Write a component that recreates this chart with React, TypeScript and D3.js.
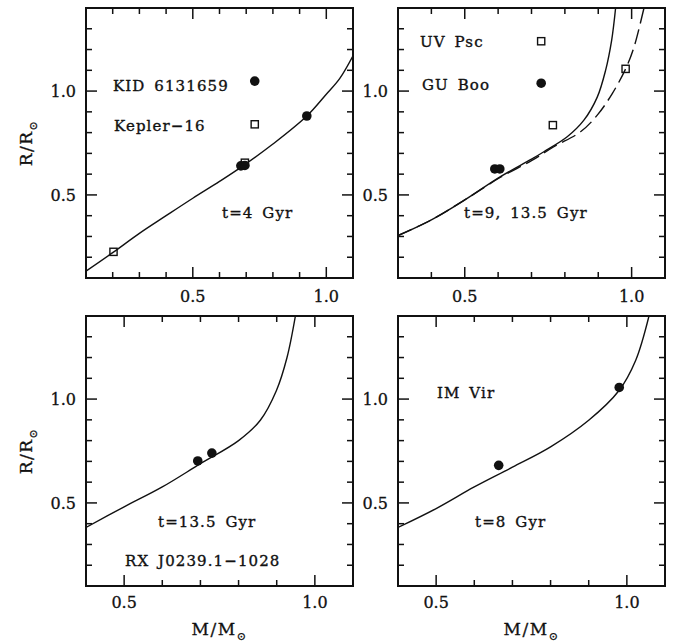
import React, { useRef, useEffect } from 'react';
import * as d3 from 'd3';

// isochrone curves, [mass, radius]
const curve4Gyr: [number, number][] = [
  [0.1, 0.133], [0.2, 0.222], [0.3, 0.315], [0.4, 0.4], [0.5, 0.484], [0.6, 0.565],
  [0.688, 0.64], [0.8, 0.745], [0.927, 0.88], [1.0, 0.985], [1.05, 1.06], [1.1, 1.17],
];
const curve13Gyr: [number, number][] = [
  [0.3, 0.304], [0.4, 0.38], [0.5, 0.476], [0.607, 0.588], [0.7, 0.672], [0.737, 0.708],
  [0.807, 0.78], [0.857, 0.86], [0.897, 0.971], [0.922, 1.1], [0.94, 1.243], [0.952, 1.4],
];
const curve9Gyr: [number, number][] = [
  [0.3, 0.304], [0.4, 0.38], [0.5, 0.476], [0.607, 0.585], [0.7, 0.665], [0.767, 0.732],
  [0.847, 0.804], [0.897, 0.884], [0.942, 0.988], [0.982, 1.107], [1.007, 1.211], [1.037, 1.4],
];
const curveRx: [number, number][] = [
  [0.4, 0.382], [0.5, 0.481], [0.6, 0.577], [0.7, 0.689], [0.8, 0.8], [0.857, 0.898],
  [0.899, 1.04], [0.927, 1.2], [0.949, 1.4],
];
const curve8Gyr: [number, number][] = [
  [0.4, 0.382], [0.5, 0.473], [0.6, 0.577], [0.7, 0.672], [0.8, 0.77], [0.9, 0.898],
  [0.979, 1.04], [1.023, 1.186], [1.058, 1.4],
];

// observed binaries
const kidPoints: [number, number][] = [[0.68, 0.64], [0.695, 0.642], [0.927, 0.88]];
const kepler16Points: [number, number][] = [[0.203, 0.226], [0.695, 0.655]];
const guBooPoints: [number, number][] = [[0.59, 0.625], [0.605, 0.625]];
const uvPscPoints: [number, number][] = [[0.764, 0.836], [0.982, 1.107]];
const rxPoints: [number, number][] = [[0.693, 0.702], [0.73, 0.74]];
const imVirPoints: [number, number][] = [[0.664, 0.681], [0.98, 1.056]];

// legend markers
const legendCircles = [[[0.732, 1.048]], [[0.729, 1.038]], [], []];
const legendSquares = [[[0.732, 0.84]], [[0.729, 1.24]], [], []];

const xTickLabels = [0.5, 1.0];
const yTickLabels = [0.5, 1.0];
const yDomain: [number, number] = [0.1, 1.4];

const W = 675;
const H = 643;
const PW = 267;
const PH = 270;
const FONT = 'DejaVu Serif';
const INK = '#111';

type Panel = {
  x0: number; y0: number; xDomain: [number, number];
  solid: [number, number][]; dashed?: [number, number][];
  circles: [number, number][]; squares: [number, number][];
  notes: { text: string; dx: number; dy: number }[];
  xTitle: boolean; yTitle: boolean;
};

const panels: Panel[] = [
  {
    x0: 86, y0: 8, xDomain: [0.1, 1.1], solid: curve4Gyr,
    circles: kidPoints, squares: kepler16Points,
    notes: [
      { text: 'KID 6131659', dx: 27, dy: 83 },
      { text: 'Kepler\u221216', dx: 28, dy: 123 },
      { text: 't=4 Gyr', dx: 136, dy: 210 },
    ],
    xTitle: false, yTitle: true,
  },
  {
    x0: 398, y0: 8, xDomain: [0.3, 1.1], solid: curve13Gyr, dashed: curve9Gyr,
    circles: guBooPoints, squares: uvPscPoints,
    notes: [
      { text: 'UV Psc', dx: 22, dy: 39 },
      { text: 'GU Boo', dx: 24, dy: 82 },
      { text: 't=9, 13.5 Gyr', dx: 66, dy: 210 },
    ],
    xTitle: false, yTitle: false,
  },
  {
    x0: 86, y0: 316, xDomain: [0.4, 1.1], solid: curveRx,
    circles: rxPoints, squares: [],
    notes: [
      { text: 't=13.5 Gyr', dx: 72, dy: 211 },
      { text: 'RX J0239.1\u22121028', dx: 39, dy: 250 },
    ],
    xTitle: true, yTitle: true,
  },
  {
    x0: 398, y0: 316, xDomain: [0.4, 1.1], solid: curve8Gyr,
    circles: imVirPoints, squares: [],
    notes: [
      { text: 'IM Vir', dx: 39, dy: 82 },
      { text: 't=8 Gyr', dx: 77, dy: 211 },
    ],
    xTitle: true, yTitle: false,
  },
];

const App = () => {
  const svgRef = useRef<SVGSVGElement>(null);

  useEffect(() => {
    const svg = d3.select(svgRef.current);
    svg.selectAll('*').remove();

    panels.forEach((p, i) => {
      const x = d3.scaleLinear().domain(p.xDomain).range([0, PW]);
      const y = d3.scaleLinear().domain(yDomain).range([PH, 0]);
      const g = svg.append('g').attr('transform', `translate(${p.x0},${p.y0})`);

      g.append('clipPath').attr('id', `clip${i}`)
        .append('rect').attr('width', PW).attr('height', PH);

      // ticks: minor every 0.1, major at 0.5 and 1.0, on all four sides
      const isMajor = (v: number) => Math.abs(v * 2 - Math.round(v * 2)) < 1e-6;
      const xt = d3.range(Math.round(p.xDomain[0] * 10) + 1, Math.round(p.xDomain[1] * 10)).map(v => v / 10);
      const yt = d3.range(Math.round(yDomain[0] * 10) + 1, Math.round(yDomain[1] * 10)).map(v => v / 10);
      const ticks = g.append('g').attr('stroke', INK).attr('stroke-width', 1.5);
      xt.forEach(v => {
        const L = isMajor(v) ? 11 : 6;
        ticks.append('line').attr('x1', x(v)).attr('x2', x(v)).attr('y1', PH).attr('y2', PH - L);
        ticks.append('line').attr('x1', x(v)).attr('x2', x(v)).attr('y1', 0).attr('y2', L);
      });
      yt.forEach(v => {
        const L = isMajor(v) ? 11 : 6;
        ticks.append('line').attr('x1', 0).attr('x2', L).attr('y1', y(v)).attr('y2', y(v));
        ticks.append('line').attr('x1', PW).attr('x2', PW - L).attr('y1', y(v)).attr('y2', y(v));
      });

      // tick labels
      xTickLabels.forEach(v => {
        g.append('text').attr('x', x(v)).attr('y', PH + (p.y0 < 100 ? 23.5 : 22))
          .attr('text-anchor', 'middle').attr('font-family', FONT).attr('font-size', 16)
          .attr('fill', INK).attr('stroke', INK).attr('stroke-width', 0.3)
          .text(v.toFixed(1));
      });
      yTickLabels.forEach(v => {
        g.append('text').attr('x', -10).attr('y', y(v) + 6)
          .attr('text-anchor', 'end').attr('font-family', FONT).attr('font-size', 16)
          .attr('fill', INK).attr('stroke', INK).attr('stroke-width', 0.3)
          .text(v.toFixed(1));
      });

      // curves
      const line = d3.line<[number, number]>()
        .x(d => x(d[0])).y(d => y(d[1]))
        .curve(d3.curveCatmullRom.alpha(0.5));
      const plot = g.append('g').attr('clip-path', `url(#clip${i})`);
      plot.append('path').attr('d', line(p.solid)).attr('fill', 'none')
        .attr('stroke', INK).attr('stroke-width', 1.4);
      if (p.dashed) {
        plot.append('path').attr('d', line(p.dashed)).attr('fill', 'none')
          .attr('stroke', INK).attr('stroke-width', 1.4).attr('stroke-dasharray', '15,6');
      }

      // points
      const circles = [...p.circles, ...(legendCircles[i] as [number, number][])];
      const squares = [...p.squares, ...(legendSquares[i] as [number, number][])];
      plot.selectAll('circle.pt').data(circles).enter().append('circle')
        .attr('cx', d => x(d[0])).attr('cy', d => y(d[1])).attr('r', 4.8).attr('fill', INK);
      plot.selectAll('rect.pt').data(squares).enter().append('rect')
        .attr('x', d => x(d[0]) - 3.6).attr('y', d => y(d[1]) - 3.6)
        .attr('width', 7.2).attr('height', 7.2)
        .attr('fill', 'none').attr('stroke', INK).attr('stroke-width', 1.4);

      // annotations
      p.notes.forEach(n => {
        g.append('text').attr('x', n.dx).attr('y', n.dy)
          .attr('font-family', FONT).attr('font-size', 15).attr('letter-spacing', 1.1)
          .attr('word-spacing', 3).attr('fill', INK).attr('stroke', INK).attr('stroke-width', 0.35)
          .text(n.text);
      });

      // frame
      g.append('rect').attr('width', PW).attr('height', PH).attr('fill', 'none')
        .attr('stroke', INK).attr('stroke-width', 2);

      // axis titles
      if (p.xTitle) {
        const t = g.append('text').attr('x', PW / 2).attr('y', 319)
          .attr('text-anchor', 'middle').attr('font-family', FONT).attr('font-size', 17)
          .attr('letter-spacing', 1.5).attr('fill', INK).attr('stroke', INK).attr('stroke-width', 0.3);
        t.append('tspan').text('M/M');
        t.append('tspan').attr('font-size', 11).attr('dy', 5).text('\u2299');
      }
      if (p.yTitle) {
        const t = g.append('text')
          .attr('transform', `translate(${32 - p.x0},${PH / 2}) rotate(-90)`)
          .attr('text-anchor', 'middle').attr('font-family', FONT).attr('font-size', 17)
          .attr('letter-spacing', 1.5).attr('fill', INK).attr('stroke', INK).attr('stroke-width', 0.3);
        t.append('tspan').text('R/R');
        t.append('tspan').attr('font-size', 11).attr('dy', 5).text('\u2299');
      }
    });
  }, []);

  return (
    <svg ref={svgRef} width={W} height={H}
      style={{ position: 'absolute', left: 0, top: 0, background: 'white' }} />
  );
};

export default App;
